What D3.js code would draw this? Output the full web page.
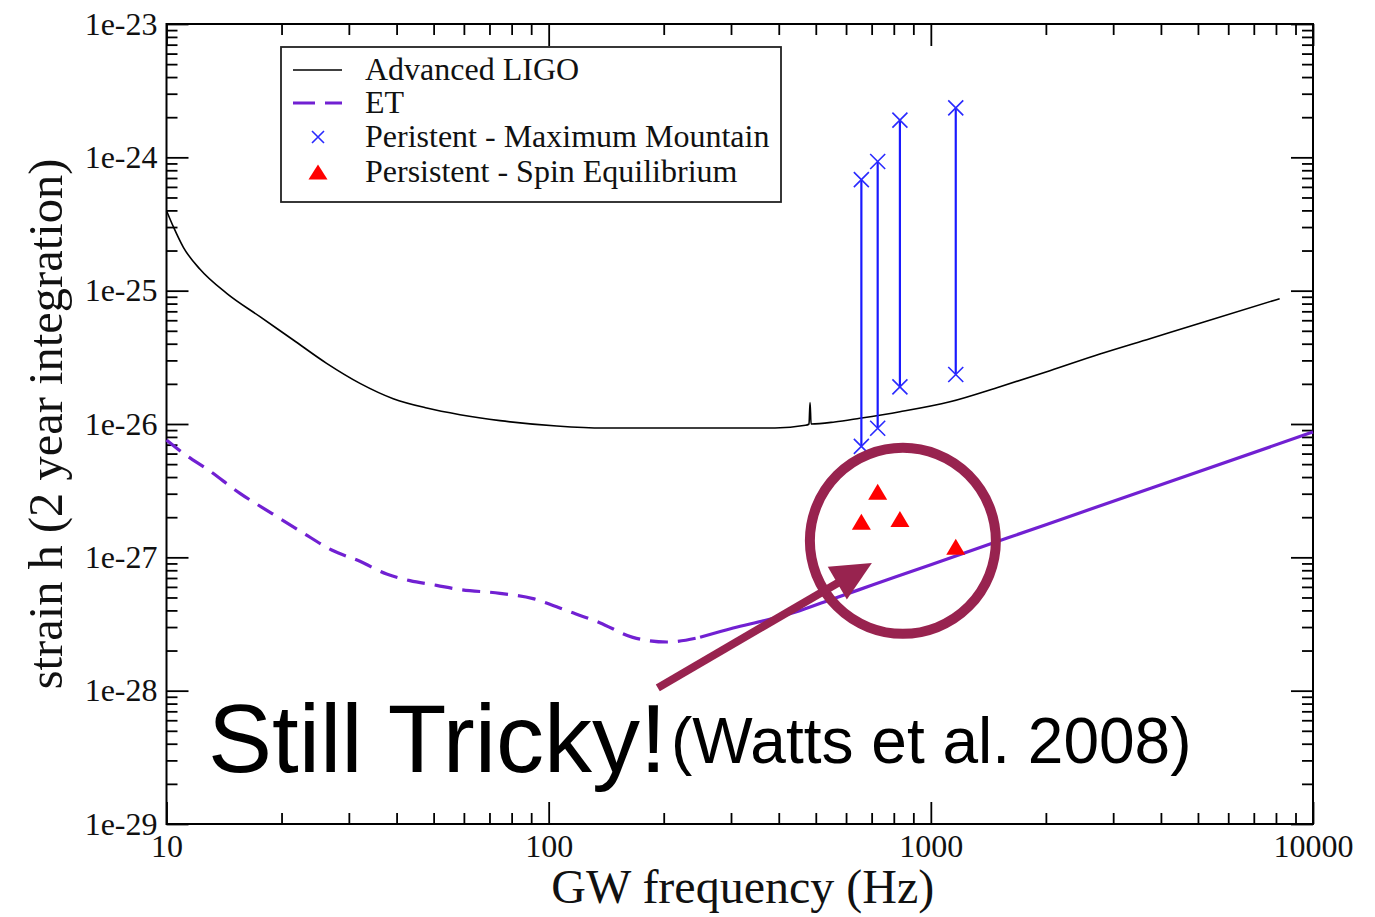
<!DOCTYPE html>
<html>
<head>
<meta charset="utf-8">
<script src="https://cdn.jsdelivr.net/npm/d3@7"></script>
<style>
  body { margin: 0; background: #fff; }
  svg { display: block; }
</style>
</head>
<body>
<svg id="chart" width="1375" height="917"></svg>
<script>
// Advanced LIGO sensitivity (GW frequency in Hz, log10 of strain h)
const ligoFreq = [10, 10.42, 11.07, 12.24, 14.37, 17.56, 21.47, 26.24, 32.08, 39.2, 47.97, 58.6, 74.6, 105, 139, 200, 300, 391, 470, 480, 483, 486, 560, 652, 830, 1122, 1517, 2049, 2769, 3742, 5058, 8180];
const ligoLogH = [-24.40, -24.52, -24.675, -24.84, -25.02, -25.195, -25.37, -25.545, -25.695, -25.81, -25.88, -25.93, -25.975, -26.015, -26.03, -26.03, -26.03, -26.03, -26.01, -26.0, -25.84, -26.0, -25.985, -25.957, -25.908, -25.833, -25.72, -25.60, -25.475, -25.36, -25.245, -25.06];

// Einstein Telescope sensitivity
const etFreq = [10, 11.07, 12.87, 15.57, 18.85, 22.58, 27.05, 32.08, 37.67, 43.35, 50.9, 58, 74.6, 91, 111.7, 136, 166, 204, 249, 304, 372, 454, 556, 700, 1000, 2000, 4000, 10000];
const etLogH = [-26.12, -26.22, -26.345, -26.52, -26.67, -26.81, -26.945, -27.03, -27.125, -27.175, -27.21, -27.24, -27.27, -27.31, -27.40, -27.49, -27.60, -27.635, -27.60, -27.53, -27.47, -27.40, -27.31, -27.21, -27.055, -26.755, -26.455, -26.06];

// Persistent sources: GW frequency (twice the spin) and strain estimates
const srcFreq = [658, 726, 830, 1162];
const mountainHigh = [6.8e-25, 9.3e-25, 1.9e-24, 2.35e-24];
const mountainLow = [6.8e-27, 9.3e-27, 1.9e-26, 2.35e-26];
const spinEqH = [1.85e-27, 3.1e-27, 1.94e-27, 1.2e-27];

// Axis ticks
const xMajor = [10, 100, 1000, 10000];
const xTickLabels = ["10", "100", "1000", "10000"];
const yMajor = [1e-29, 1e-28, 1e-27, 1e-26, 1e-25, 1e-24, 1e-23];
const yTickLabels = ["1e-29", "1e-28", "1e-27", "1e-26", "1e-25", "1e-24", "1e-23"];

const legendLabels = ["Advanced LIGO", "ET", "Peristent - Maximum Mountain", "Persistent - Spin Equilibrium"];

// Callout: circle around the spin-equilibrium points and arrow towards ET
const calloutCenter = { f: 845, h: 1.33e-27 };
const arrowFrom = { f: 193, h: 1.05e-28 };
const arrowTo = { f: 701, h: 9.06e-28 };

const plot = { left: 166.5, right: 1313, top: 24, bottom: 824 };
const svg = d3.select("#chart");

const x = d3.scaleLog().domain([10, 10000]).range([plot.left, plot.right]);
const y = d3.scaleLog().domain([1e-29, 1e-23]).range([plot.bottom, plot.top]);

const serif = "'Liberation Serif', 'Times New Roman', serif";
const sans = "'Liberation Sans', Arial, Helvetica, sans-serif";
const purple = "#7120d2";
const maroon = "#98234f";

function minorsOf(majors) {
  const out = [];
  for (let i = 0; i < majors.length - 1; i++)
    for (let k = 2; k <= 9; k++) out.push(majors[i] * k);
  return out;
}
const xMinor = minorsOf(xMajor);
const yMinor = minorsOf(yMajor);

const MAJ = 22, MIN = 11;

function styleAxis(g) {
  g.select(".domain").remove();
  g.selectAll(".tick line").attr("stroke", "#000").attr("stroke-width", 1.8);
  g.selectAll("text").attr("font-family", serif).attr("font-size", 32).attr("fill", "#111");
}

// bottom axis
svg.append("g").attr("transform", `translate(0,${plot.bottom})`)
  .call(d3.axisBottom(x).tickValues(xMinor).tickSize(-MIN).tickFormat(""))
  .call(styleAxis);
svg.append("g").attr("transform", `translate(0,${plot.bottom})`)
  .call(d3.axisBottom(x).tickValues(xMajor).tickSize(-MAJ).tickPadding(10)
    .tickFormat((d, i) => xTickLabels[i]))
  .call(styleAxis);
// top axis
svg.append("g").attr("transform", `translate(0,${plot.top})`)
  .call(d3.axisTop(x).tickValues(xMinor).tickSize(-MIN).tickFormat(""))
  .call(styleAxis);
svg.append("g").attr("transform", `translate(0,${plot.top})`)
  .call(d3.axisTop(x).tickValues(xMajor).tickSize(-MAJ).tickFormat(""))
  .call(styleAxis);
// left axis
svg.append("g").attr("transform", `translate(${plot.left},0)`)
  .call(d3.axisLeft(y).tickValues(yMinor).tickSize(-MIN).tickFormat(""))
  .call(styleAxis);
svg.append("g").attr("transform", `translate(${plot.left},0)`)
  .call(d3.axisLeft(y).tickValues(yMajor).tickSize(-MAJ).tickPadding(9)
    .tickFormat((d, i) => yTickLabels[i]))
  .call(styleAxis);
// right axis
svg.append("g").attr("transform", `translate(${plot.right},0)`)
  .call(d3.axisRight(y).tickValues(yMinor).tickSize(-MIN).tickFormat(""))
  .call(styleAxis);
svg.append("g").attr("transform", `translate(${plot.right},0)`)
  .call(d3.axisRight(y).tickValues(yMajor).tickSize(-MAJ).tickFormat(""))
  .call(styleAxis);

// frame
svg.append("rect")
  .attr("x", plot.left).attr("y", plot.top)
  .attr("width", plot.right - plot.left).attr("height", plot.bottom - plot.top)
  .attr("fill", "none").attr("stroke", "#000").attr("stroke-width", 2);

// axis titles
svg.append("text")
  .attr("x", (plot.left + plot.right) / 2 + 3).attr("y", 903)
  .attr("text-anchor", "middle")
  .attr("font-family", serif).attr("font-size", 48).attr("fill", "#111")
  .text("GW frequency (Hz)");
svg.append("text")
  .attr("transform", `translate(62,${(plot.top + plot.bottom) / 2}) rotate(-90)`)
  .attr("text-anchor", "middle")
  .attr("font-family", serif).attr("font-size", 48.5).attr("fill", "#111")
  .text("strain h (2 year integration)");

const line = d3.line()
  .x(d => x(d[0]))
  .y(d => y(Math.pow(10, d[1])))
  .curve(d3.curveMonotoneX);

const ligo = ligoFreq.map((f, i) => [f, ligoLogH[i]]);
const et = etFreq.map((f, i) => [f, etLogH[i]]);

const curves = svg.append("g");
curves.append("path").datum(ligo).attr("d", line)
  .attr("fill", "none").attr("stroke", "#000").attr("stroke-width", 1.6);

// ET: dashed through the low-frequency part, dense (solid-looking) above
curves.append("path").datum(et.filter(d => d[0] <= 249)).attr("d", line)
  .attr("fill", "none").attr("stroke", purple).attr("stroke-width", 3.2)
  .attr("stroke-dasharray", "18,10");
curves.append("path").datum(et.filter(d => d[0] >= 249)).attr("d", line)
  .attr("fill", "none").attr("stroke", purple).attr("stroke-width", 3.2);

// Maximum mountain ranges
const mm = svg.append("g");
mm.selectAll("line.range").data(srcFreq).join("line")
  .attr("class", "range")
  .attr("x1", d => x(d)).attr("x2", d => x(d))
  .attr("y1", (d, i) => y(mountainHigh[i])).attr("y2", (d, i) => y(mountainLow[i]))
  .attr("stroke", "#1a1aff").attr("stroke-width", 2.2);

function cross(g, cx, cy, r) {
  g.append("path")
    .attr("d", `M${cx - r},${cy - r}L${cx + r},${cy + r}M${cx - r},${cy + r}L${cx + r},${cy - r}`)
    .attr("stroke", "#2a2aff").attr("stroke-width", 1.6).attr("fill", "none");
}
srcFreq.forEach((f, i) => {
  cross(mm, x(f), y(mountainHigh[i]), 7.5);
  cross(mm, x(f), y(mountainLow[i]), 7.5);
});

// Spin equilibrium triangles
function tri(g, cx, cy, w, h) {
  g.append("path")
    .attr("d", `M${cx},${cy - h / 2}L${cx + w / 2},${cy + h / 2}L${cx - w / 2},${cy + h / 2}Z`)
    .attr("fill", "#ff0000");
}
const se = svg.append("g");
srcFreq.forEach((f, i) => tri(se, x(f), y(spinEqH[i]), 19, 16));

// legend
const lg = svg.append("g");
lg.append("rect").attr("x", 281).attr("y", 47).attr("width", 500).attr("height", 155)
  .attr("fill", "#fff").attr("stroke", "#222").attr("stroke-width", 1.8);
const rowY = [70, 103, 137, 172];
lg.append("line").attr("x1", 293).attr("x2", 342).attr("y1", rowY[0]).attr("y2", rowY[0])
  .attr("stroke", "#000").attr("stroke-width", 1.6);
lg.append("line").attr("x1", 293).attr("x2", 342).attr("y1", rowY[1]).attr("y2", rowY[1])
  .attr("stroke", purple).attr("stroke-width", 3.2).attr("stroke-dasharray", "22,10");
cross(lg, 318, rowY[2], 6);
tri(lg, 318, rowY[3], 19, 15);
lg.selectAll("text").data(legendLabels).join("text")
  .attr("x", 365).attr("y", (d, i) => rowY[i] + 10)
  .attr("font-family", serif).attr("font-size", 32).attr("fill", "#111")
  .text(d => d);

// callout
const ann = svg.append("g");
ann.append("circle")
  .attr("cx", x(calloutCenter.f)).attr("cy", y(calloutCenter.h)).attr("r", 93)
  .attr("fill", "none").attr("stroke", maroon).attr("stroke-width", 10);

const ax0 = x(arrowFrom.f), ay0 = y(arrowFrom.h);
const ax1 = x(arrowTo.f), ay1 = y(arrowTo.h);
const ang = Math.atan2(ay1 - ay0, ax1 - ax0);
const headLen = 40, headHalf = 19;
const bx = ax1 - headLen * Math.cos(ang), by = ay1 - headLen * Math.sin(ang);
ann.append("line")
  .attr("x1", ax0).attr("y1", ay0).attr("x2", bx + 4 * Math.cos(ang)).attr("y2", by + 4 * Math.sin(ang))
  .attr("stroke", maroon).attr("stroke-width", 8);
ann.append("path")
  .attr("d", `M${ax1},${ay1}L${bx - headHalf * Math.sin(ang)},${by + headHalf * Math.cos(ang)}L${bx + headHalf * Math.sin(ang)},${by - headHalf * Math.cos(ang)}Z`)
  .attr("fill", maroon);

svg.append("text")
  .attr("x", 208).attr("y", 772)
  .attr("font-family", sans).attr("font-size", 96).attr("fill", "#000")
  .text("Still Tricky!");
svg.append("text")
  .attr("x", 671).attr("y", 763)
  .attr("font-family", sans).attr("font-size", 64).attr("fill", "#000")
  .text("(Watts et al. 2008)");
</script>
</body>
</html>
